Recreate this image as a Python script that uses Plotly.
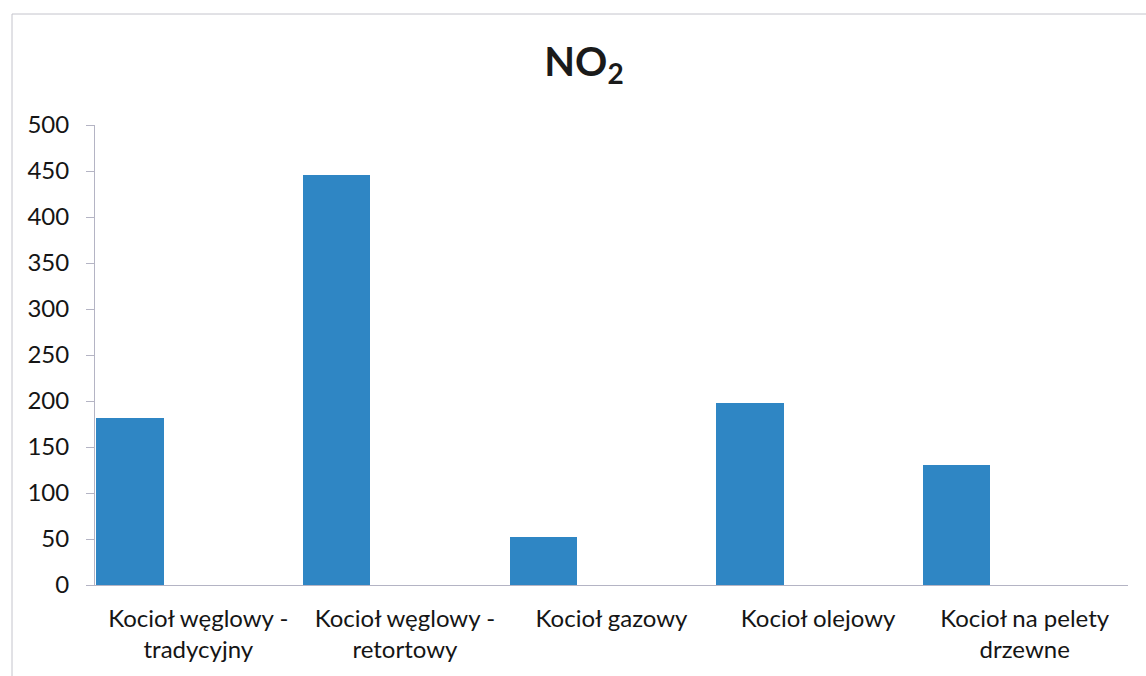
import plotly.graph_objects as go

categories = ["Kocioł węglowy -<br>tradycyjny", "Kocioł węglowy -<br>retortowy",
              "Kocioł gazowy", "Kocioł olejowy", "Kocioł na pelety<br>drzewne"]
values = [182, 446, 52, 198, 130]
y_ticks = [0, 50, 100, 150, 200, 250, 300, 350, 400, 450, 500]

W, H = 1146, 676
L, R, T, B = 95, 18, 125, 91
pw, ph = W - L - R, H - T - B

fig = go.Figure()
fig.add_trace(go.Bar(
    x=categories, y=values,
    width=0.326, offset=-0.493,
    marker=dict(color="#2f86c4", line=dict(width=0)),
    showlegend=False,
))

def px_x(p):
    return (p - L) / pw

def px_y(p):
    return (H - B - p) / ph

fig.update_layout(
    width=W, height=H,
    margin=dict(l=L, r=R, t=T, b=B),
    paper_bgcolor="white", plot_bgcolor="white",
    font=dict(family="Lato, 'Open Sans', sans-serif", size=24, color="#151515"),
    title=dict(text="<b>NO<sub>2</sub></b>", x=584 / W, xref="container", xanchor="center",
               y=1 - 62 / H, yref="container", yanchor="middle",
               font=dict(family="Lato, 'Open Sans', sans-serif", size=40, color="#1a1a1a")),
    xaxis=dict(type="category", showgrid=False, showline=True, linecolor="#b4b4c4", linewidth=1,
               ticks="", tickfont=dict(size=24), range=[-0.5, 4.5], fixedrange=True,
               ticklabelstandoff=12),
    yaxis=dict(range=[0, 500], tickvals=y_ticks, showgrid=False, showline=True,
               linecolor="#b4b4c4", linewidth=1, ticks="outside", ticklen=8,
               tickcolor="#b4b4c4", tickfont=dict(size=24), zeroline=False,
               ticklabelstandoff=12),
    bargap=0,
)

fig.add_shape(type="rect", xref="paper", yref="paper",
              x0=px_x(12), x1=px_x(1170), y0=px_y(14), y1=px_y(700),
              line=dict(color="#c4c4cc", width=1), fillcolor="rgba(0,0,0,0)", layer="below")

fig.write_html("out.html", config={"displayModeBar": False},
               post_script="document.body.style.margin='0';document.body.style.overflow='hidden';")
